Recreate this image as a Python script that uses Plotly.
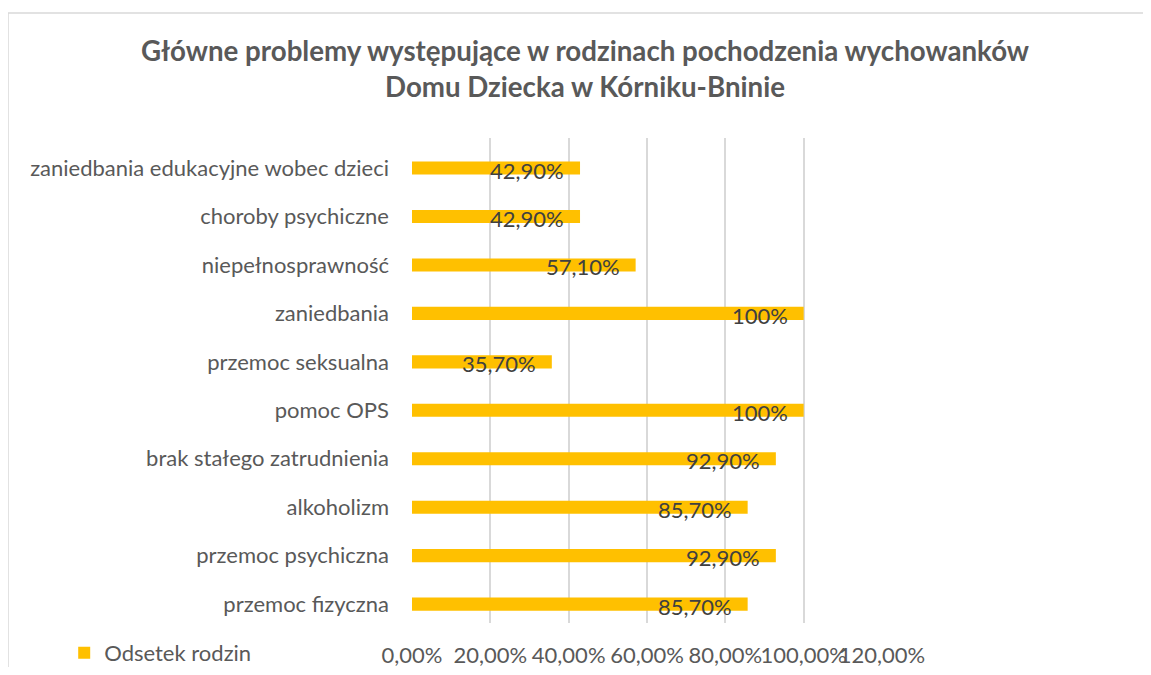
import plotly.graph_objects as go

categories = ['przemoc fizyczna', 'przemoc psychiczna', 'alkoholizm',
              'brak stałego zatrudnienia', 'pomoc OPS', 'przemoc seksualna',
              'zaniedbania', 'niepełnosprawność', 'choroby psychiczne',
              'zaniedbania edukacyjne wobec dzieci']
values = [0.857, 0.929, 0.857, 0.929, 1.0, 0.357, 1.0, 0.571, 0.429, 0.429]
labels = ['85,70%', '92,90%', '85,70%', '92,90%', '100%', '35,70%',
          '100%', '57,10%', '42,90%', '42,90%']
tick_vals = [0, 0.2, 0.4, 0.6, 0.8, 1.0, 1.2]
tick_text = ['0,00%', '20,00%', '40,00%', '60,00%', '80,00%', '100,00%', '120,00%']

font = 'Lato'
gold = '#FFC000'

fig = go.Figure()
fig.add_trace(go.Bar(
    y=categories, x=values, orientation='h', name='Odsetek rodzin',
    marker=dict(color=gold, line=dict(width=0)), width=0.27,
))

# data labels sit just inside the bar end, like Excel's "inside end"
for c, v, t in zip(categories, values, labels):
    fig.add_annotation(x=v, y=c, text=t, showarrow=False, xanchor='right',
                       xshift=-14, yshift=-2,
                       font=dict(family=font, size=22, color='#404040'))

# page body has an 8px margin all round, so the figure is kept 16px smaller
W, H = 1135, 659
L, R, T, B = 404, 874, 130, 615   # plot area in figure pixels
fig.update_layout(
    width=W, height=H,
    margin=dict(l=L, r=W - R, t=T, b=H - B, autoexpand=False),
    paper_bgcolor='white', plot_bgcolor='white',
    font=dict(family=font, size=22, color='#595959'),
    title=dict(text='<b>Główne problemy występujące w rodzinach pochodzenia wychowanków<br>Domu Dziecka w Kórniku-Bninie</b>',
               x=577 / W, xanchor='center', y=1 - 52.5 / H, yanchor='middle',
               font=dict(family=font, size=27.7, color='#595959')),
    showlegend=True,
    legend=dict(orientation='h', x=-0.74, y=-0.062, xanchor='left', yanchor='middle',
                font=dict(family=font, size=22, color='#595959')),
    bargap=0.73,
)
fig.update_xaxes(range=[0, 1.2], tickvals=tick_vals, ticktext=tick_text,
                 tickangle=0, automargin=False,
                 showgrid=True, gridcolor='#D9D9D9', gridwidth=1.5,
                 zeroline=False, showline=False, ticks='', ticklabelstandoff=17)
fig.update_yaxes(range=[-0.39, 9.62], showgrid=False, showline=False,
                 automargin=False, ticks='', ticklabelstandoff=22)

# light chart border (only top and left edges fall inside the picture)
px_x = lambda p: (p - L) / (R - L)
px_y = lambda p: (B - p) / (B - T)
fig.add_shape(type='line', xref='paper', yref='paper', x0=px_x(0), x1=px_x(W),
              y0=px_y(5), y1=px_y(5), line=dict(color='#D9D9D9', width=1.5))
fig.add_shape(type='line', xref='paper', yref='paper', x0=px_x(0), x1=px_x(0),
              y0=px_y(H), y1=px_y(5), line=dict(color='#D9D9D9', width=1.5))

fig.write_html('out.html')
